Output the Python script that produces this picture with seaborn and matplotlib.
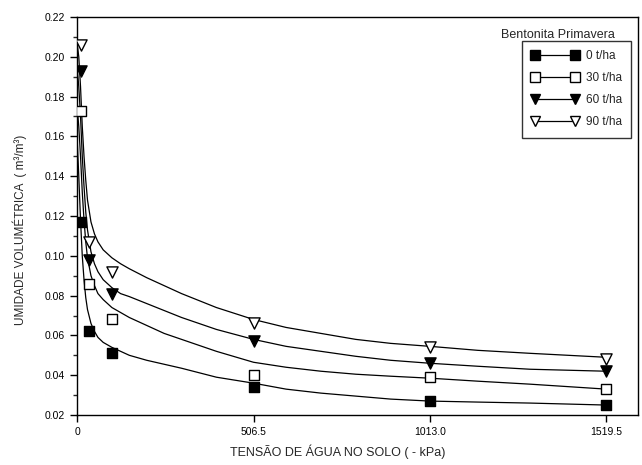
import numpy as np
import pandas as pd
import seaborn as sns
import matplotlib
matplotlib.use("Agg")
import matplotlib.pyplot as plt
from matplotlib.lines import Line2D

# measured points (tension in kPa, volumetric moisture m3/m3)
tension = [10.13, 33.8, 101.3, 506.5, 1013.0, 1519.5]
theta_0 = [0.117, 0.062, 0.051, 0.034, 0.027, 0.025]
theta_30 = [0.173, 0.086, 0.068, 0.040, 0.039, 0.033]
theta_60 = [0.193, 0.098, 0.081, 0.057, 0.046, 0.042]
theta_90 = [0.206, 0.107, 0.092, 0.066, 0.054, 0.048]

# fitted curves
curve_x = [0, 5, 10, 15, 20, 25, 30, 40, 50, 60, 75, 100, 125, 150, 200, 250, 300,
           400, 506.5, 600, 700, 800, 900, 1013, 1150, 1300, 1519.5]
curve_0 = [0.160, 0.140, 0.118, 0.100, 0.088, 0.079, 0.073, 0.066, 0.062, 0.059, 0.0565,
           0.054, 0.052, 0.050, 0.0475, 0.0455, 0.0435, 0.039, 0.036, 0.033, 0.031, 0.0295,
           0.028, 0.027, 0.0265, 0.026, 0.025]
curve_30 = [0.175, 0.165, 0.150, 0.132, 0.118, 0.107, 0.099, 0.090, 0.085, 0.081, 0.078,
            0.074, 0.0715, 0.069, 0.065, 0.061, 0.058, 0.052, 0.0465, 0.044, 0.042, 0.0405,
            0.0395, 0.0385, 0.037, 0.0355, 0.033]
curve_60 = [0.195, 0.185, 0.170, 0.150, 0.135, 0.122, 0.113, 0.102, 0.096, 0.092, 0.088,
            0.084, 0.081, 0.0795, 0.076, 0.0725, 0.069, 0.063, 0.058, 0.0545, 0.052, 0.0495,
            0.0475, 0.046, 0.0445, 0.043, 0.042]
curve_90 = [0.207, 0.200, 0.185, 0.165, 0.150, 0.138, 0.128, 0.117, 0.111, 0.107, 0.103,
            0.099, 0.096, 0.0935, 0.089, 0.085, 0.081, 0.074, 0.068, 0.064, 0.061, 0.058,
            0.056, 0.0545, 0.0525, 0.051, 0.049]

doses = ["0 t/ha", "30 t/ha", "60 t/ha", "90 t/ha"]
x_ticks = [0, 506.5, 1013.0, 1519.5]
x_ticklabels = ["0", "506.5", "1013.0", "1519.5"]

sns.set_style("ticks")
plt.rcParams["font.family"] = ["Liberation Sans", "DejaVu Sans"]

fig = plt.figure(figsize=(6.42, 4.65), dpi=100)
ax = fig.add_axes([0.12, 0.1075, 0.8738, 0.856])

curves = pd.DataFrame({
    "x": curve_x * 4,
    "y": curve_0 + curve_30 + curve_60 + curve_90,
    "dose": np.repeat(doses, len(curve_x)),
})
sns.lineplot(data=curves, x="x", y="y", hue="dose", palette=["black"] * 4,
             estimator=None, sort=False, legend=False, linewidth=0.9, ax=ax)

styles = [("s", "black"), ("s", "white"), ("v", "black"), ("v", "white")]
series = [theta_0, theta_30, theta_60, theta_90]
handles = []
for dose, vals, (mk, fc) in zip(doses, series, styles):
    pts = pd.DataFrame({"x": tension, "y": vals})
    sns.scatterplot(data=pts, x="x", y="y", marker=mk, color=fc, edgecolor="black",
                    linewidth=1.0, s=50 if mk == "s" else 65, zorder=5, ax=ax)
    handles.append(Line2D([0], [0], color="black", lw=0.9, marker=mk,
                          markerfacecolor=fc, markeredgecolor="black", markersize=6.5))

ax.set_xlim(0, 1610)
ax.set_ylim(0.02, 0.22)
ax.set_xticks(x_ticks)
ax.set_xticklabels(x_ticklabels)
ax.set_yticks(np.arange(0.02, 0.2201, 0.02))
ax.set_yticklabels([f"{v:.2f}" for v in np.arange(0.02, 0.2201, 0.02)])
ax.set_yticks(np.arange(0.03, 0.22, 0.02), minor=True)
ax.tick_params(axis="both", labelsize=7.5, direction="out", length=5, width=1, colors="black")
ax.tick_params(axis="y", which="minor", length=3, width=1)
for sp in ax.spines.values():
    sp.set_visible(True)
    sp.set_linewidth(1)
    sp.set_color("black")

ax.set_xlabel("TENSÃO DE ÁGUA NO SOLO ( - kPa)", fontsize=9, labelpad=6)
ax.xaxis.set_label_coords(0.465, -0.075)
ax.set_ylabel("UMIDADE VOLUMÉTRICA  ( m³/m³)", fontsize=8.5)
ax.yaxis.set_label_coords(-0.09, 0.465)

leg = ax.legend(handles, doses, loc="upper right", bbox_to_anchor=(0.988, 0.94),
                numpoints=2, handlelength=4.0, fontsize=8.5, frameon=True,
                fancybox=False, borderpad=0.8, labelspacing=0.85, handletextpad=0.6,
                borderaxespad=0.0)
leg.get_frame().set_edgecolor("black")
leg.get_frame().set_linewidth(1)
ax.text(0.857, 0.955, "Bentonita Primavera", transform=ax.transAxes, ha="center",
        va="center", fontsize=9)

fig.savefig("out.png", dpi=100)
